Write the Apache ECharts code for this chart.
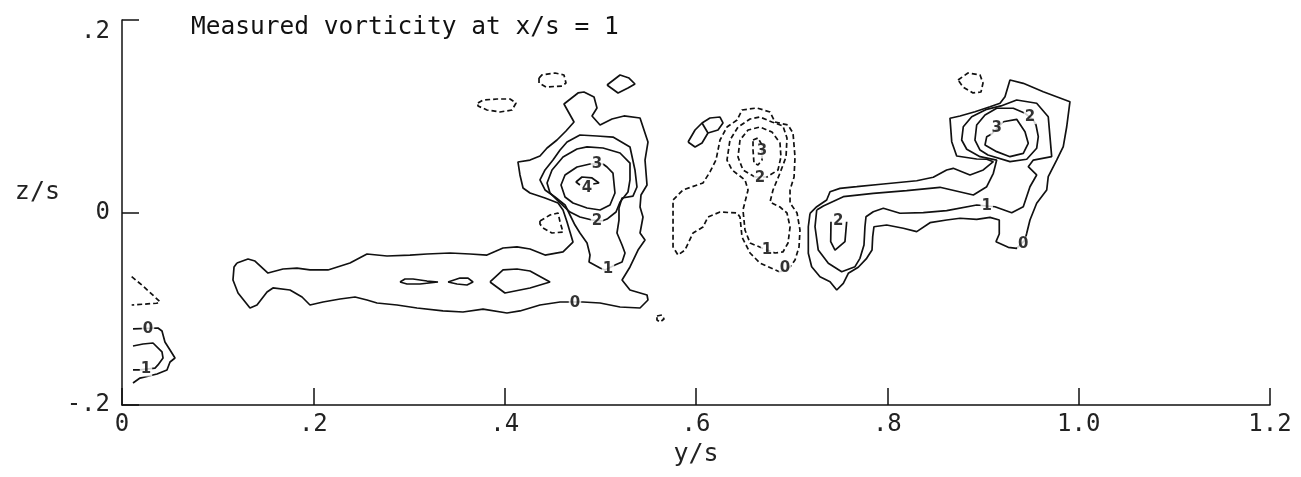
<!DOCTYPE html>
<html>
<head>
<meta charset="utf-8">
<script src="https://cdn.jsdelivr.net/npm/echarts@6/dist/echarts.min.js"></script>
<style>
  html, body { margin: 0; padding: 0; background: #fff; }
  #chart { width: 1301px; height: 477px; }
</style>
</head>
<body>
<div id="chart"></div>
<script>
// Axis tick labels
const xTickLabels = ['0', '.2', '.4', '.6', '.8', '1.0', '1.2'];
const yTickLabels = ['-.2', '0', '.2'];

// Positive vorticity contours, [y/s, z/s]
// Wake streak and left vortex, level 0 (closed)
const wakeZero = [
  [0.1202,-0.0525],[0.1317,-0.0483],[0.1390,-0.0504],[0.1526,-0.0629],[0.1683,-0.0587],[0.1829,-0.0577],
  [0.1965,-0.0597],[0.2153,-0.0597],[0.2383,-0.0525],[0.2561,-0.0431],[0.2770,-0.0452],[0.3010,-0.0442],
  [0.3188,-0.0431],[0.3429,-0.0421],[0.3638,-0.0431],[0.3815,-0.0442],[0.3983,-0.0369],[0.4129,-0.0358],
  [0.4265,-0.0379],[0.4422,-0.0442],[0.4610,-0.0410],[0.4714,-0.0307],[0.4683,-0.0203],[0.4652,-0.0099],
  [0.4610,0.0026],[0.4558,0.0099],[0.4422,0.0151],[0.4265,0.0203],[0.4192,0.0255],[0.4160,0.0390],
  [0.4139,0.0525],[0.4265,0.0545],[0.4369,0.0587],[0.4443,0.0670],[0.4547,0.0753],[0.4641,0.0847],
  [0.4725,0.0940],[0.4620,0.1127],[0.4767,0.1242],[0.4829,0.1252],[0.4934,0.1200],[0.4965,0.1086],
  [0.4913,0.1003],[0.4997,0.0909],[0.5122,0.0971],[0.5247,0.1003],[0.5415,0.0982],[0.5498,0.0732],
  [0.5467,0.0545],[0.5488,0.0286],[0.5425,0.0182],[0.5415,0.0057],[0.5446,-0.0047],[0.5415,-0.0213],
  [0.5467,-0.0286],[0.5394,-0.0390],[0.5310,-0.0566],[0.5227,-0.0701],[0.5310,-0.0805],[0.5488,-0.0857],
  [0.5498,-0.0909],[0.5415,-0.0992],[0.5206,-0.0982],[0.4997,-0.0940],[0.4819,-0.0930],[0.4579,-0.0930],
  [0.4369,-0.0961],[0.4265,-0.0992],[0.4160,-0.1023],[0.4024,-0.1044],[0.3774,-0.1003],[0.3564,-0.1034],
  [0.3355,-0.1023],[0.3084,-0.0992],[0.2875,-0.0961],[0.2666,-0.0940],[0.2561,-0.0909],[0.2436,-0.0878],
  [0.2279,-0.0899],[0.2101,-0.0930],[0.1965,-0.0961],[0.1882,-0.0878],[0.1756,-0.0805],[0.1578,-0.0784],
  [0.1516,-0.0826],[0.1411,-0.0961],[0.1338,-0.0992],[0.1213,-0.0836],[0.1160,-0.0701],[0.1171,-0.0566]
];
const leftOne = [
  [0.5153,-0.0545],[0.5227,-0.0514],[0.5258,-0.0421],[0.5227,-0.0338],[0.5174,-0.0213],[0.5195,-0.0078],
  [0.5195,0.0047],[0.5227,0.0151],[0.5341,0.0171],[0.5383,0.0265],[0.5362,0.0442],[0.5310,0.0681],
  [0.5132,0.0784],[0.4965,0.0795],[0.4787,0.0805],[0.4652,0.0732],[0.4579,0.0649],[0.4505,0.0545],
  [0.4422,0.0442],[0.4369,0.0338],[0.4422,0.0234],[0.4526,0.0161],[0.4631,0.0078],[0.4683,-0.0026],
  [0.4735,-0.0130],[0.4787,-0.0213],[0.4861,-0.0317],[0.4892,-0.0442],[0.4882,-0.0514],[0.4997,-0.0577],
  [0.5049,-0.0597]
];
const leftTwo = [
  [0.5017,-0.0088],[0.5070,-0.0068],[0.5164,0.0005],[0.5206,0.0109],[0.5289,0.0213],[0.5310,0.0338],
  [0.5310,0.0514],[0.5206,0.0618],[0.5028,0.0670],[0.4861,0.0681],[0.4756,0.0660],[0.4610,0.0577],
  [0.4495,0.0442],[0.4443,0.0307],[0.4474,0.0203],[0.4579,0.0099],[0.4683,0.0005],[0.4787,-0.0047],
  [0.4913,-0.0078]
];
const leftThree = [
  [0.5028,0.0504],[0.5070,0.0473],[0.5132,0.0410],[0.5153,0.0203],[0.5101,0.0078],[0.4997,0.0026],
  [0.4861,0.0047],[0.4714,0.0099],[0.4631,0.0161],[0.4589,0.0286],[0.4631,0.0390],[0.4756,0.0473],
  [0.4892,0.0504]
];
const leftFour = [
  [0.4787,0.0286],[0.4746,0.0317],[0.4808,0.0369],[0.4913,0.0359],[0.4986,0.0307],[0.4924,0.0296]
];
// Cores inside the wake streak
const wakeCoreA = [
  [0.2906,-0.0722],[0.2958,-0.0691],[0.3042,-0.0691],[0.3188,-0.0712],[0.3303,-0.0722],[0.3115,-0.0743],[0.2979,-0.0743]
];
const wakeCoreB = [
  [0.3408,-0.0722],[0.3533,-0.0681],[0.3617,-0.0681],[0.3669,-0.0722],[0.3606,-0.0753],[0.3502,-0.0743]
];
const wakeCoreC = [
  [0.3847,-0.0722],[0.3983,-0.0597],[0.4129,-0.0587],[0.4265,-0.0608],[0.4474,-0.0722],[0.4265,-0.0784],
  [0.4160,-0.0805],[0.4003,-0.0836]
];
// Small positive islands
const islandLeft = [
  [0.5070,0.1325],[0.5206,0.1429],[0.5300,0.1397],[0.5362,0.1335],[0.5289,0.1294],[0.5185,0.1242]
];
const islandCentre = [
  [0.5917,0.0732],[0.5990,0.0857],[0.6063,0.0930],[0.6146,0.0982],[0.6251,0.0992],[0.6282,0.0930],
  [0.6230,0.0857],[0.6125,0.0826],[0.6063,0.0722],[0.5990,0.0681]
];
const islandCentreSeam = [[0.6063,0.0930],[0.6125,0.0826]];

// Right vortex
const rightZero = [
  [0.7192,-0.0008],[0.7262,0.0060],[0.7366,0.0130],[0.7401,0.0216],[0.7505,0.0251],[0.7680,0.0268],
  [0.7958,0.0296],[0.8307,0.0330],[0.8480,0.0366],[0.8620,0.0442],[0.8689,0.0459],[0.8864,0.0390],
  [0.9003,0.0442],[0.9108,0.0528],[0.9039,0.0553],[0.8934,0.0556],[0.8725,0.0587],[0.8673,0.0736],
  [0.8655,0.0979],[0.8760,0.1003],[0.8916,0.1047],[0.9073,0.1099],[0.9178,0.1135],[0.9230,0.1203],
  [0.9282,0.1377],[0.9421,0.1342],[0.9630,0.1255],[0.9909,0.1151],[0.9875,0.0891],[0.9839,0.0684],
  [0.9770,0.0545],[0.9682,0.0372],[0.9666,0.0234],[0.9561,0.0096],[0.9491,-0.0078],[0.9457,-0.0216],
  [0.9439,-0.0286],[0.9352,-0.0372],[0.9264,-0.0362],[0.9136,-0.0303],[0.9170,-0.0223],[0.9170,-0.0078],
  [0.9073,-0.0050],[0.8934,-0.0071],[0.8760,-0.0060],[0.8620,-0.0078],[0.8446,-0.0106],[0.8307,-0.0199],
  [0.8167,-0.0164],[0.7993,-0.0130],[0.7860,-0.0148],[0.7847,-0.0251],[0.7840,-0.0390],[0.7784,-0.0476],
  [0.7696,-0.0569],[0.7592,-0.0632],[0.7540,-0.0736],[0.7471,-0.0805],[0.7401,-0.0719],[0.7296,-0.0667],
  [0.7209,-0.0563],[0.7174,-0.0424],[0.7174,-0.0148]
];
const rightOne = [
  [0.7262,0.0026],[0.7331,0.0068],[0.7540,0.0164],[0.7853,0.0199],[0.8202,0.0227],[0.8550,0.0262],
  [0.8899,0.0182],[0.9039,0.0268],[0.9108,0.0407],[0.9143,0.0545],[0.8969,0.0580],[0.8830,0.0657],
  [0.8777,0.0753],[0.8794,0.0891],[0.8882,0.0995],[0.9039,0.1072],[0.9188,0.1107],[0.9352,0.1169],
  [0.9561,0.1135],[0.9682,0.0995],[0.9700,0.0788],[0.9718,0.0580],[0.9526,0.0545],[0.9473,0.0476],
  [0.9561,0.0390],[0.9491,0.0268],[0.9421,0.0060],[0.9300,-0.0002],[0.9125,0.0060],[0.8934,0.0078],
  [0.8620,0.0019],[0.8376,-0.0002],[0.8132,-0.0008],[0.7958,0.0044],[0.7853,0.0008],[0.7777,-0.0044],
  [0.7766,-0.0148],[0.7756,-0.0338],[0.7714,-0.0476],[0.7662,-0.0563],[0.7523,-0.0615],[0.7383,-0.0528],
  [0.7278,-0.0390],[0.7244,-0.0148]
];
const rightTwo = [
  [0.9526,0.0961],[0.9554,0.0909],[0.9578,0.0788],[0.9561,0.0667],[0.9457,0.0553],[0.9282,0.0528],
  [0.9052,0.0597],[0.8969,0.0649],[0.8916,0.0753],[0.8934,0.0909],[0.9021,0.1013],[0.9143,0.1083],
  [0.9317,0.1083],[0.9439,0.1031]
];
const rightThree = [
  [0.9212,0.0943],[0.9352,0.0968],[0.9439,0.0840],[0.9473,0.0719],[0.9421,0.0615],[0.9282,0.0580],
  [0.9143,0.0632],[0.9021,0.0701],[0.9039,0.0788],[0.9091,0.0816]
];
const rightTwoLobe = [
  [0.7411,-0.0096],[0.7408,-0.0303],[0.7453,-0.0390],[0.7557,-0.0303],[0.7575,-0.0096]
];

// Near the wall at y/s = 0
const wallZero = [
  [0.0115,-0.1210],[0.0376,-0.1200],[0.0418,-0.1231],[0.0449,-0.1345],[0.0502,-0.1429],[0.0554,-0.1512],
  [0.0502,-0.1553],[0.0470,-0.1636],[0.0366,-0.1678],[0.0188,-0.1720],[0.0115,-0.1771]
];
const wallOne = [
  [0.0115,-0.1387],[0.0220,-0.1366],[0.0324,-0.1356],[0.0418,-0.1449],[0.0429,-0.1512],[0.0376,-0.1584],
  [0.0345,-0.1616],[0.0188,-0.1636],[0.0115,-0.1636]
];

// Negative vorticity contours (dashed)
const negTopA = [
  [0.4359,0.1397],[0.4390,0.1429],[0.4526,0.1449],[0.4620,0.1429],[0.4641,0.1345],[0.4599,0.1314],
  [0.4432,0.1304],[0.4359,0.1345]
];
const negTopB = [
  [0.3721,0.1138],[0.3774,0.1169],[0.3920,0.1179],[0.4056,0.1179],[0.4119,0.1138],[0.4077,0.1065],
  [0.3951,0.1044],[0.3815,0.1065],[0.3721,0.1107]
];
const negSide = [
  [0.4369,-0.0088],[0.4474,-0.0026],[0.4558,-0.0005],[0.4579,-0.0099],[0.4610,-0.0203],[0.4495,-0.0213],
  [0.4401,-0.0161],[0.4369,-0.0119]
];
const negSpeck = [
  [0.5592,-0.1075],[0.5645,-0.1065],[0.5666,-0.1107],[0.5624,-0.1138],[0.5592,-0.1117]
];
const negRight = [
  [0.8739,0.1377],[0.8843,0.1449],[0.8969,0.1429],[0.9000,0.1345],[0.8979,0.1252],[0.8896,0.1242],[0.8791,0.1304]
];
const centreZero = [
  [0.6878,-0.0618],[0.6669,-0.0525],[0.6565,-0.0421],[0.6481,-0.0255],[0.6460,-0.0047],[0.6429,-0.0005],
  [0.6251,0.0005],[0.6125,-0.0047],[0.6073,-0.0151],[0.5969,-0.0213],[0.5885,-0.0390],[0.5812,-0.0442],
  [0.5760,-0.0358],[0.5760,0.0130],[0.5864,0.0234],[0.6073,0.0307],[0.6146,0.0421],[0.6209,0.0545],
  [0.6251,0.0753],[0.6324,0.0888],[0.6429,0.0961],[0.6481,0.1065],[0.6638,0.1086],[0.6774,0.1044],
  [0.6826,0.0940],[0.6962,0.0909],[0.7014,0.0826],[0.7035,0.0577],[0.7025,0.0369],[0.6983,0.0234],
  [0.6983,0.0099],[0.7056,-0.0005],[0.7087,-0.0182],[0.7077,-0.0358],[0.7035,-0.0494],[0.6983,-0.0566]
];
const centreOne = [
  [0.6690,-0.0369],[0.6565,-0.0317],[0.6512,-0.0182],[0.6491,0.0026],[0.6544,0.0234],[0.6512,0.0338],
  [0.6376,0.0442],[0.6324,0.0545],[0.6355,0.0753],[0.6439,0.0888],[0.6565,0.0971],[0.6669,0.0992],
  [0.6794,0.0940],[0.6909,0.0899],[0.6951,0.0774],[0.6941,0.0577],[0.6878,0.0410],[0.6805,0.0234],
  [0.6774,0.0109],[0.6878,0.0057],[0.6951,-0.0005],[0.6983,-0.0151],[0.6962,-0.0317],[0.6909,-0.0410],
  [0.6826,-0.0421]
];
const centreTwo = [
  [0.6617,0.0369],[0.6491,0.0442],[0.6439,0.0577],[0.6460,0.0753],[0.6544,0.0857],[0.6669,0.0888],
  [0.6794,0.0836],[0.6878,0.0722],[0.6888,0.0577],[0.6857,0.0442],[0.6742,0.0369]
];
const centreThree = [
  [0.6596,0.0753],[0.6648,0.0774],[0.6690,0.0701],[0.6690,0.0545],[0.6648,0.0494],[0.6606,0.0514],[0.6596,0.0649]
];
const wallNeg = [
  [0.0101,-0.0667],[0.0220,-0.0764],[0.0397,-0.0927],[0.0363,-0.0943],[0.0101,-0.0961]
];

// Contour level labels: [y/s, z/s, text]
const contourLabels = [
  [0.4735,-0.0940,'0'],[0.5080,-0.0587,'1'],[0.4965,-0.0088,'2'],[0.4965,0.0504,'3'],[0.4861,0.0255,'4'],
  [0.6930,-0.0577,'0'],[0.6742,-0.0390,'1'],[0.6669,0.0359,'2'],[0.6690,0.0639,'3'],
  [0.9421,-0.0327,'0'],[0.9039,0.0071,'1'],[0.9491,0.0995,'2'],[0.9143,0.0875,'3'],[0.7487,-0.0088,'2'],
  [0.0272,-0.1210,'0'],[0.0251,-0.1626,'1']
];

const INK = '#111';
const close = pts => pts.concat([pts[0]]);
const contour = (pts, dashed) => ({
  type: 'line',
  data: pts,
  symbol: 'none',
  silent: true,
  z: 3,
  lineStyle: { color: INK, width: 1.7, type: dashed ? [5, 3] : 'solid' }
});

const solidLoops = [wakeZero, leftOne, leftTwo, leftThree, wakeCoreA, wakeCoreB, wakeCoreC,
  islandLeft, islandCentre, rightZero, rightOne, rightTwo, rightThree];
const solidOpen = [leftFour, islandCentreSeam, rightTwoLobe, wallZero, wallOne];
const dashedLoops = [negTopA, negTopB, negSide, negSpeck, negRight, centreZero, centreOne, centreTwo, centreThree];
const dashedOpen = [wallNeg];

const series = []
  .concat(solidLoops.map(p => contour(close(p), false)))
  .concat(solidOpen.map(p => contour(p, false)))
  .concat(dashedLoops.map(p => contour(close(p), true)))
  .concat(dashedOpen.map(p => contour(p, true)));

series.push({
  type: 'scatter',
  data: contourLabels,
  symbolSize: 1,
  silent: true,
  z: 6,
  itemStyle: { color: 'rgba(0,0,0,0)' },
  label: {
    show: true,
    position: 'inside',
    formatter: p => p.value[2],
    fontFamily: 'DejaVu Sans',
    fontSize: 15,
    fontWeight: 'bold',
    color: '#000',
    backgroundColor: '#fff',
    padding: [0, 1]
  }
});

const monoText = { fontFamily: 'DejaVu Sans Mono', fontSize: 24, color: '#222', fontWeight: 'normal' };

const chart = echarts.init(document.getElementById('chart'), null, { renderer: 'canvas' });
chart.setOption({
  animation: false,
  backgroundColor: '#fff',
  title: {
    text: 'Measured vorticity at x/s = 1',
    left: 186,
    top: 10,
    textStyle: { fontFamily: 'DejaVu Sans Mono', fontSize: 24.5, fontWeight: 'normal', color: '#111' }
  },
  grid: { left: 122, right: 31, top: 20, bottom: 72 },
  xAxis: {
    type: 'value', min: 0, max: 1.2, interval: 0.2,
    name: 'y/s', nameLocation: 'middle', nameGap: 37,
    nameTextStyle: Object.assign({}, monoText, { fontSize: 25 }),
    axisLine: { show: true, onZero: false, lineStyle: { color: INK, width: 1.5 } },
    axisTick: { show: true, inside: true, length: 17, lineStyle: { color: INK, width: 1.5 } },
    axisLabel: Object.assign({}, monoText, {
      margin: 8,
      formatter: v => xTickLabels[Math.round(v / 0.2)]
    }),
    splitLine: { show: false }
  },
  yAxis: {
    type: 'value', min: -0.2, max: 0.2, interval: 0.2,
    name: 'z/s', nameLocation: 'middle', nameRotate: 0, nameGap: 62,
    nameTextStyle: Object.assign({}, monoText, { fontSize: 25, verticalAlign: 'bottom', padding: [0, 0, 8, 0] }),
    axisLine: { show: true, onZero: false, lineStyle: { color: INK, width: 1.5 } },
    axisTick: { show: true, inside: true, length: 17, lineStyle: { color: INK, width: 1.5 } },
    axisLabel: Object.assign({}, monoText, {
      margin: 12,
      verticalAlignMaxLabel: 'top',
      formatter: v => yTickLabels[Math.round((v + 0.2) / 0.2)]
    }),
    splitLine: { show: false }
  },
  series: series
});
</script>
</body>
</html>
